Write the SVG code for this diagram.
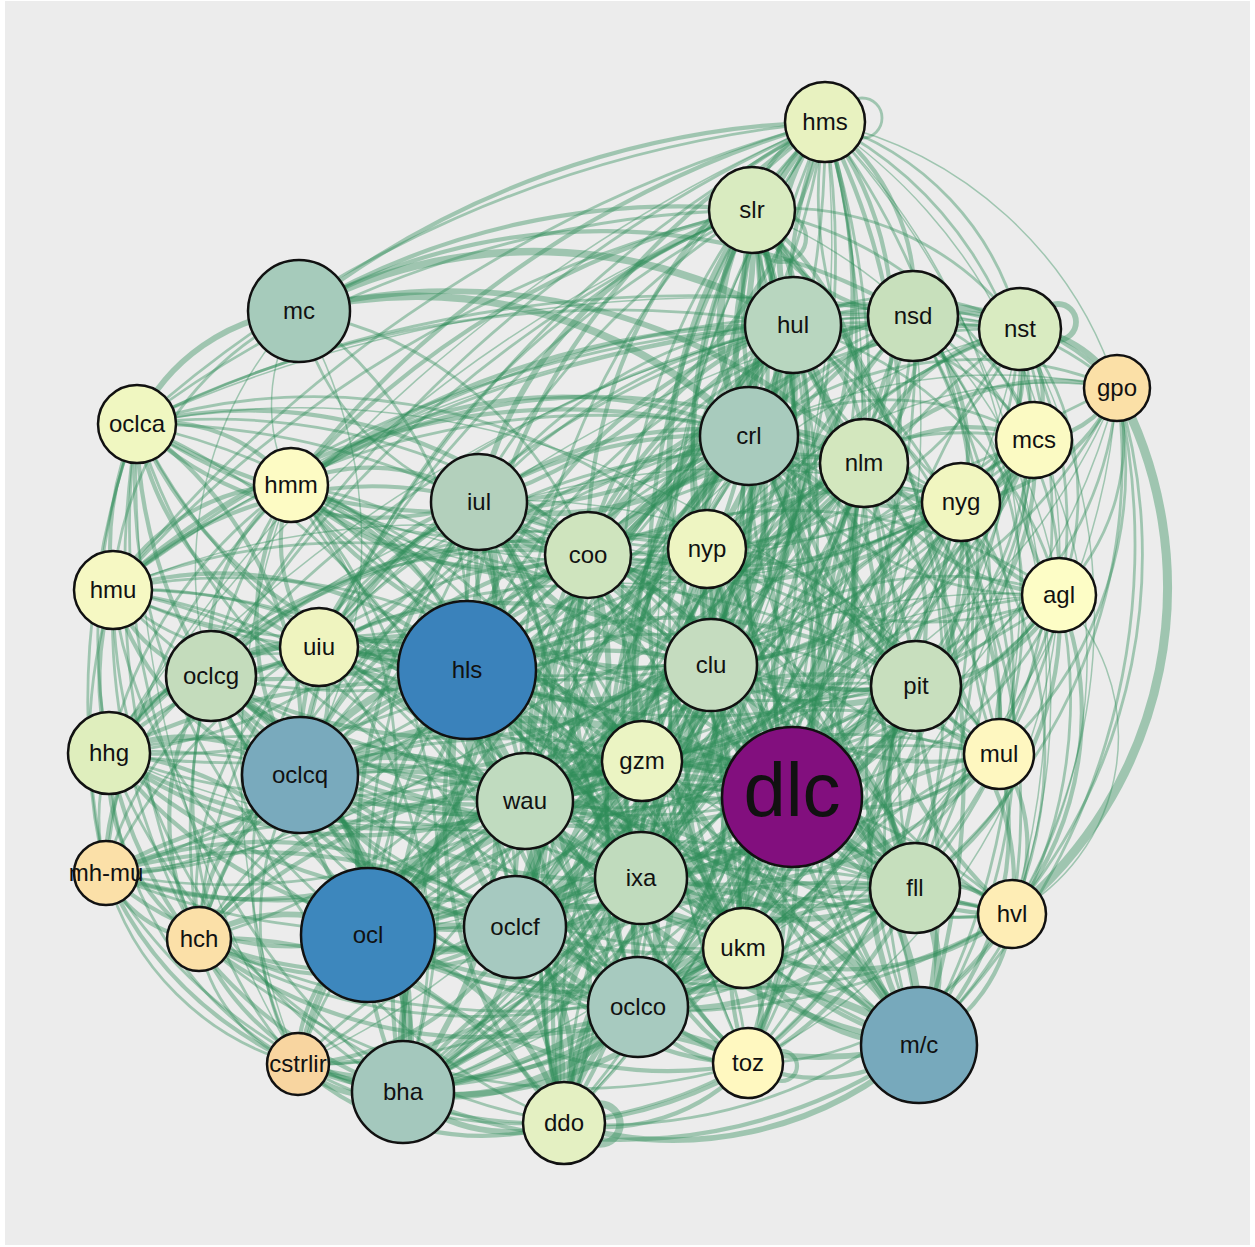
<svg xmlns="http://www.w3.org/2000/svg" width="1255" height="1247" viewBox="0 0 1255 1247">
<style>
#edges path{fill:none;stroke:#2e8b57;stroke-opacity:0.4}
#edges circle{fill:none;stroke:#2e8b57;stroke-opacity:0.4}
.a{stroke-width:1.5}.b{stroke-width:2.8}.c{stroke-width:4.2}.d{stroke-width:5.8}.e{stroke-width:7.5}.f{stroke-width:9}
.n circle{stroke:#111;stroke-width:2.5}
.n text{font-family:"Liberation Sans",Arial,Helvetica,sans-serif;font-size:24px;fill:#111;text-anchor:middle}
</style>
<rect x="0" y="0" width="1255" height="1247" fill="#ffffff"/>
<rect x="5" y="1" width="1245" height="1244" fill="#ececec"/>
<g id="edges">
<path class="c" d="M825 122A675 675 0 0 1 792 797"/>
<path class="c" d="M752 210A589 589 0 0 0 792 797"/>
<path class="d" d="M793 325A472 472 0 0 1 792 797"/>
<path class="c" d="M913 316A496 496 0 0 0 792 797"/>
<path class="b" d="M1020 329A520 520 0 0 1 792 797"/>
<path class="b" d="M1117 388A523 523 0 0 0 792 797"/>
<path class="e" d="M749 436A363 363 0 0 1 792 797"/>
<path class="c" d="M864 463A341 341 0 0 0 792 797"/>
<path class="b" d="M1034 440A429 429 0 0 1 792 797"/>
<path class="c" d="M961 502A339 339 0 0 0 792 797"/>
<path class="c" d="M588 555A316 316 0 0 1 792 797"/>
<path class="c" d="M707 549A261 261 0 0 0 792 797"/>
<path class="b" d="M1059 595A334 334 0 0 1 792 797"/>
<path class="e" d="M711 665A154 154 0 0 0 792 797"/>
<path class="e" d="M916 686A166 166 0 0 1 792 797"/>
<path class="d" d="M792 797A155 155 0 0 0 642 761"/>
<path class="c" d="M999 754A211 211 0 0 1 792 797"/>
<path class="e" d="M792 797A267 267 0 0 0 525 801"/>
<path class="e" d="M792 797A172 172 0 0 1 641 878"/>
<path class="e" d="M915 888A154 154 0 0 0 792 797"/>
<path class="c" d="M1012 914A250 250 0 0 1 792 797"/>
<path class="e" d="M792 797A160 160 0 0 0 743 948"/>
<path class="e" d="M792 797A261 261 0 0 1 638 1007"/>
<path class="c" d="M792 797A271 271 0 0 0 748 1063"/>
<path class="e" d="M792 797A280 280 0 0 1 919 1045"/>
<path class="d" d="M792 797A398 398 0 0 0 564 1123"/>
<path class="d" d="M792 797A489 489 0 0 1 403 1092"/>
<path class="e" d="M792 797A446 446 0 0 0 368 935"/>
<path class="e" d="M792 797A306 306 0 0 1 515 927"/>
<path class="e" d="M792 797A492 492 0 0 0 300 775"/>
<path class="e" d="M792 797A349 349 0 0 1 467 670"/>
<path class="d" d="M792 797A429 429 0 0 0 479 502"/>
<path class="b" d="M792 797A590 590 0 0 1 291 485"/>
<path class="b" d="M792 797A753 753 0 0 0 137 424"/>
<path class="b" d="M792 797A710 710 0 0 1 113 590"/>
<path class="c" d="M792 797A684 684 0 0 0 109 753"/>
<path class="c" d="M792 797A593 593 0 0 1 211 676"/>
<path class="c" d="M792 797A496 496 0 0 0 319 647"/>
<path class="b" d="M792 797A690 690 0 0 1 106 873"/>
<path class="c" d="M792 797A610 610 0 0 0 199 939"/>
<path class="b" d="M792 797A562 562 0 0 1 298 1064"/>
<path class="c" d="M467 670A654 654 0 0 1 825 122"/>
<path class="c" d="M467 670A543 543 0 0 0 752 210"/>
<path class="c" d="M467 670A475 475 0 0 1 793 325"/>
<path class="c" d="M467 670A366 366 0 0 0 749 436"/>
<path class="b" d="M467 670A448 448 0 0 1 864 463"/>
<path class="d" d="M467 670A168 168 0 0 0 479 502"/>
<path class="d" d="M467 670A167 167 0 0 1 588 555"/>
<path class="c" d="M467 670A269 269 0 0 0 707 549"/>
<path class="d" d="M711 665A244 244 0 0 1 467 670"/>
<path class="d" d="M642 761A196 196 0 0 0 467 670"/>
<path class="e" d="M525 801A143 143 0 0 1 467 670"/>
<path class="d" d="M641 878A271 271 0 0 0 467 670"/>
<path class="e" d="M515 927A261 261 0 0 1 467 670"/>
<path class="e" d="M368 935A283 283 0 0 0 467 670"/>
<path class="e" d="M300 775A197 197 0 0 1 467 670"/>
<path class="d" d="M467 670A256 256 0 0 0 211 676"/>
<path class="c" d="M467 670A150 150 0 0 1 319 647"/>
<path class="c" d="M467 670A255 255 0 0 0 291 485"/>
<path class="c" d="M467 670A412 412 0 0 1 137 424"/>
<path class="c" d="M467 670A363 363 0 0 0 113 590"/>
<path class="c" d="M109 753A367 367 0 0 1 467 670"/>
<path class="b" d="M106 873A414 414 0 0 0 467 670"/>
<path class="c" d="M199 939A379 379 0 0 1 467 670"/>
<path class="d" d="M403 1092A427 427 0 0 0 467 670"/>
<path class="c" d="M564 1123A462 462 0 0 1 467 670"/>
<path class="d" d="M638 1007A378 378 0 0 0 467 670"/>
<path class="c" d="M743 948A392 392 0 0 1 467 670"/>
<path class="b" d="M748 1063A483 483 0 0 0 467 670"/>
<path class="d" d="M919 1045A587 587 0 0 1 467 670"/>
<path class="c" d="M916 686A449 449 0 0 0 467 670"/>
<path class="c" d="M915 888A498 498 0 0 1 467 670"/>
<path class="b" d="M467 670A521 521 0 0 0 961 502"/>
<path class="b" d="M467 670A569 569 0 0 1 913 316"/>
<path class="b" d="M467 670A611 611 0 0 0 1034 440"/>
<path class="b" d="M1059 595A597 597 0 0 1 467 670"/>
<path class="b" d="M999 754A539 539 0 0 0 467 670"/>
<path class="b" d="M1012 914A597 597 0 0 1 467 670"/>
<path class="b" d="M467 670A396 396 0 0 0 299 311"/>
<path class="e" d="M368 935A174 174 0 0 0 300 775"/>
<path class="e" d="M515 927A147 147 0 0 1 368 935"/>
<path class="e" d="M403 1092A161 161 0 0 0 368 935"/>
<path class="c" d="M298 1064A147 147 0 0 1 368 935"/>
<path class="d" d="M368 935A169 169 0 0 0 199 939"/>
<path class="c" d="M368 935A270 270 0 0 1 106 873"/>
<path class="c" d="M368 935A316 316 0 0 0 109 753"/>
<path class="b" d="M368 935A429 429 0 0 1 113 590"/>
<path class="c" d="M368 935A303 303 0 0 0 211 676"/>
<path class="b" d="M368 935A561 561 0 0 1 137 424"/>
<path class="b" d="M368 935A457 457 0 0 0 291 485"/>
<path class="c" d="M368 935A292 292 0 0 1 319 647"/>
<path class="c" d="M368 935A447 447 0 0 0 479 502"/>
<path class="c" d="M368 935A439 439 0 0 1 588 555"/>
<path class="e" d="M525 801A206 206 0 0 0 368 935"/>
<path class="d" d="M641 878A279 279 0 0 1 368 935"/>
<path class="d" d="M638 1007A279 279 0 0 0 368 935"/>
<path class="c" d="M743 948A375 375 0 0 1 368 935"/>
<path class="d" d="M564 1123A270 270 0 0 0 368 935"/>
<path class="c" d="M748 1063A401 401 0 0 1 368 935"/>
<path class="d" d="M919 1045A562 562 0 0 0 368 935"/>
<path class="c" d="M915 888A549 549 0 0 1 368 935"/>
<path class="b" d="M916 686A602 602 0 0 0 368 935"/>
<path class="c" d="M711 665A437 437 0 0 1 368 935"/>
<path class="c" d="M642 761A324 324 0 0 0 368 935"/>
<path class="b" d="M368 935A628 628 0 0 1 749 436"/>
<path class="b" d="M368 935A743 743 0 0 0 793 325"/>
<path class="b" d="M368 935A822 822 0 0 1 752 210"/>
<path class="b" d="M368 935A933 933 0 0 0 825 122"/>
<path class="b" d="M864 463A685 685 0 0 1 368 935"/>
<path class="b" d="M368 935A514 514 0 0 0 707 549"/>
<path class="b" d="M1012 914A644 644 0 0 1 368 935"/>
<path class="b" d="M999 754A656 656 0 0 0 368 935"/>
<path class="a" d="M961 502A733 733 0 0 1 368 935"/>
<path class="a" d="M1059 595A770 770 0 0 0 368 935"/>
<path class="d" d="M300 775A133 133 0 0 1 211 676"/>
<path class="d" d="M300 775A192 192 0 0 0 109 753"/>
<path class="c" d="M300 775A263 263 0 0 1 113 590"/>
<path class="c" d="M300 775A387 387 0 0 0 137 424"/>
<path class="c" d="M300 775A290 290 0 0 1 291 485"/>
<path class="c" d="M300 775A129 129 0 0 0 319 647"/>
<path class="c" d="M300 775A327 327 0 0 1 479 502"/>
<path class="a" d="M300 775A464 464 0 0 0 299 311"/>
<path class="c" d="M300 775A362 362 0 0 1 588 555"/>
<path class="e" d="M525 801A226 226 0 0 0 300 775"/>
<path class="d" d="M515 927A263 263 0 0 1 300 775"/>
<path class="c" d="M403 1092A333 333 0 0 0 300 775"/>
<path class="c" d="M199 939A192 192 0 0 1 300 775"/>
<path class="c" d="M106 873A217 217 0 0 0 300 775"/>
<path class="b" d="M298 1064A289 289 0 0 1 300 775"/>
<path class="c" d="M641 878A356 356 0 0 0 300 775"/>
<path class="c" d="M642 761A342 342 0 0 1 300 775"/>
<path class="c" d="M711 665A425 425 0 0 0 300 775"/>
<path class="c" d="M638 1007A410 410 0 0 1 300 775"/>
<path class="c" d="M564 1123A435 435 0 0 0 300 775"/>
<path class="c" d="M743 948A476 476 0 0 1 300 775"/>
<path class="c" d="M919 1045A675 675 0 0 0 300 775"/>
<path class="b" d="M916 686A622 622 0 0 1 300 775"/>
<path class="b" d="M915 888A625 625 0 0 0 300 775"/>
<path class="b" d="M300 775A563 563 0 0 1 749 436"/>
<path class="b" d="M300 775A668 668 0 0 0 793 325"/>
<path class="b" d="M300 775A725 725 0 0 1 752 210"/>
<path class="b" d="M300 775A838 838 0 0 0 825 122"/>
<path class="b" d="M300 775A466 466 0 0 1 707 549"/>
<path class="b" d="M300 775A645 645 0 0 0 864 463"/>
<path class="e" d="M915 888A157 157 0 0 1 919 1045"/>
<path class="c" d="M1012 914A161 161 0 0 1 919 1045"/>
<path class="c" d="M999 754A302 302 0 0 1 919 1045"/>
<path class="b" d="M1059 595A471 471 0 0 1 919 1045"/>
<path class="d" d="M916 686A359 359 0 0 0 919 1045"/>
<path class="d" d="M919 1045A201 201 0 0 1 743 948"/>
<path class="c" d="M919 1045A172 172 0 0 1 748 1063"/>
<path class="e" d="M919 1045A284 284 0 0 0 638 1007"/>
<path class="d" d="M919 1045A364 364 0 0 1 564 1123"/>
<path class="c" d="M919 1045A518 518 0 0 1 403 1092"/>
<path class="d" d="M919 1045A324 324 0 0 0 641 878"/>
<path class="d" d="M919 1045A421 421 0 0 1 515 927"/>
<path class="c" d="M919 1045A463 463 0 0 0 525 801"/>
<path class="c" d="M919 1045A398 398 0 0 1 642 761"/>
<path class="c" d="M711 665A433 433 0 0 0 919 1045"/>
<path class="c" d="M749 436A632 632 0 0 1 919 1045"/>
<path class="c" d="M864 463A585 585 0 0 0 919 1045"/>
<path class="b" d="M961 502A545 545 0 0 1 919 1045"/>
<path class="b" d="M1034 440A615 615 0 0 0 919 1045"/>
<path class="b" d="M1117 388A688 688 0 0 1 919 1045"/>
<path class="b" d="M1020 329A723 723 0 0 0 919 1045"/>
<path class="b" d="M913 316A730 730 0 0 1 919 1045"/>
<path class="c" d="M793 325A731 731 0 0 0 919 1045"/>
<path class="c" d="M752 210A853 853 0 0 1 919 1045"/>
<path class="b" d="M825 122A928 928 0 0 0 919 1045"/>
<path class="b" d="M588 555A591 591 0 0 1 919 1045"/>
<path class="b" d="M707 549A539 539 0 0 0 919 1045"/>
<path class="b" d="M919 1045A699 699 0 0 1 479 502"/>
<path class="c" d="M752 210A113 113 0 0 1 825 122"/>
<path class="d" d="M825 122A205 205 0 0 0 793 325"/>
<path class="c" d="M825 122A212 212 0 0 1 913 316"/>
<path class="b" d="M825 122A284 284 0 0 1 1020 329"/>
<path class="d" d="M825 122A323 323 0 0 0 749 436"/>
<path class="c" d="M825 122A343 343 0 0 1 864 463"/>
<path class="b" d="M825 122A403 403 0 0 0 961 502"/>
<path class="b" d="M825 122A381 381 0 0 1 1034 440"/>
<path class="c" d="M825 122A571 571 0 0 0 916 686"/>
<path class="a" d="M825 122A528 528 0 0 1 1059 595"/>
<path class="b" d="M825 122A771 771 0 0 1 915 888"/>
<path class="a" d="M825 122A656 656 0 0 1 999 754"/>
<path class="a" d="M825 122A814 814 0 0 1 1012 914"/>
<path class="c" d="M479 502A514 514 0 0 0 825 122"/>
<path class="c" d="M588 555A494 494 0 0 1 825 122"/>
<path class="c" d="M825 122A443 443 0 0 0 707 549"/>
<path class="c" d="M825 122A555 555 0 0 1 711 665"/>
<path class="b" d="M825 122A664 664 0 0 0 642 761"/>
<path class="b" d="M825 122A778 778 0 0 1 641 878"/>
<path class="b" d="M515 927A862 862 0 0 0 825 122"/>
<path class="b" d="M825 122A905 905 0 0 1 638 1007"/>
<path class="c" d="M291 485A1034 1034 0 0 1 825 122"/>
<path class="b" d="M137 424A1200 1200 0 0 1 825 122"/>
<path class="c" d="M299 311A894 894 0 0 1 825 122"/>
<path class="b" d="M113 590A1363 1363 0 0 1 825 122"/>
<path class="b" d="M211 676A1323 1323 0 0 1 825 122"/>
<path class="b" d="M319 647A1166 1166 0 0 1 825 122"/>
<path class="a" d="M109 753A1526 1526 0 0 1 825 122"/>
<path class="b" d="M825 122A830 830 0 0 0 743 948"/>
<path class="b" d="M525 801A742 742 0 0 1 825 122"/>
<path class="a" d="M403 1092A1058 1058 0 0 0 825 122"/>
<path class="a" d="M825 122A1034 1034 0 0 1 564 1123"/>
<path class="a" d="M825 122A944 944 0 0 0 748 1063"/>
<path class="a" d="M825 122A394 394 0 0 1 1117 388"/>
<path class="d" d="M752 210A122 122 0 0 1 793 325"/>
<path class="c" d="M752 210A190 190 0 0 0 913 316"/>
<path class="b" d="M752 210A290 290 0 0 1 1020 329"/>
<path class="e" d="M752 210A226 226 0 0 0 749 436"/>
<path class="c" d="M752 210A277 277 0 0 1 864 463"/>
<path class="b" d="M752 210A358 358 0 0 0 961 502"/>
<path class="b" d="M752 210A364 364 0 0 1 1034 440"/>
<path class="c" d="M752 210A503 503 0 0 0 916 686"/>
<path class="d" d="M479 502A400 400 0 0 1 752 210"/>
<path class="d" d="M588 555A382 382 0 0 0 752 210"/>
<path class="d" d="M752 210A342 342 0 0 1 707 549"/>
<path class="d" d="M752 210A457 457 0 0 0 711 665"/>
<path class="c" d="M752 210A562 562 0 0 1 642 761"/>
<path class="c" d="M525 801A633 633 0 0 0 752 210"/>
<path class="c" d="M752 210A677 677 0 0 1 641 878"/>
<path class="c" d="M515 927A755 755 0 0 0 752 210"/>
<path class="b" d="M752 210A805 805 0 0 1 638 1007"/>
<path class="c" d="M752 210A738 738 0 0 0 743 948"/>
<path class="b" d="M752 210A697 697 0 0 1 915 888"/>
<path class="c" d="M291 485A859 859 0 0 1 752 210"/>
<path class="c" d="M299 311A742 742 0 0 1 752 210"/>
<path class="b" d="M137 424A1042 1042 0 0 1 752 210"/>
<path class="b" d="M319 647A984 984 0 0 1 752 210"/>
<path class="b" d="M211 676A1142 1142 0 0 1 752 210"/>
<path class="b" d="M113 590A1189 1189 0 0 1 752 210"/>
<path class="b" d="M403 1092A948 948 0 0 0 752 210"/>
<path class="b" d="M752 210A932 932 0 0 1 564 1123"/>
<path class="a" d="M752 210A493 493 0 0 1 1059 595"/>
<path class="a" d="M109 753A1347 1347 0 0 1 752 210"/>
<path class="c" d="M793 325A120 120 0 0 1 913 316"/>
<path class="b" d="M793 325A227 227 0 0 1 1020 329"/>
<path class="e" d="M793 325A119 119 0 0 0 749 436"/>
<path class="c" d="M793 325A155 155 0 0 1 864 463"/>
<path class="c" d="M793 325A244 244 0 0 0 961 502"/>
<path class="b" d="M793 325A267 267 0 0 1 1034 440"/>
<path class="b" d="M793 325A330 330 0 0 1 1117 388"/>
<path class="c" d="M793 325A381 381 0 0 0 916 686"/>
<path class="b" d="M793 325A379 379 0 0 1 1059 595"/>
<path class="e" d="M299 311A494 494 0 0 1 793 325"/>
<path class="c" d="M479 502A360 360 0 0 0 793 325"/>
<path class="c" d="M588 555A308 308 0 0 1 793 325"/>
<path class="c" d="M793 325A240 240 0 0 0 707 549"/>
<path class="d" d="M793 325A350 350 0 0 1 711 665"/>
<path class="c" d="M793 325A461 461 0 0 0 642 761"/>
<path class="c" d="M525 801A546 546 0 0 1 793 325"/>
<path class="c" d="M793 325A573 573 0 0 0 641 878"/>
<path class="c" d="M793 325A663 663 0 0 1 515 927"/>
<path class="c" d="M793 325A699 699 0 0 0 638 1007"/>
<path class="c" d="M793 325A625 625 0 0 1 743 948"/>
<path class="c" d="M793 325A576 576 0 0 0 915 888"/>
<path class="b" d="M793 325A476 476 0 0 1 999 754"/>
<path class="c" d="M291 485A843 843 0 0 1 793 325"/>
<path class="b" d="M137 424A1060 1060 0 0 1 793 325"/>
<path class="b" d="M319 647A917 917 0 0 1 793 325"/>
<path class="b" d="M211 676A1088 1088 0 0 1 793 325"/>
<path class="b" d="M113 590A1168 1168 0 0 1 793 325"/>
<path class="a" d="M109 753A1291 1291 0 0 1 793 325"/>
<path class="b" d="M403 1092A860 860 0 0 0 793 325"/>
<path class="b" d="M793 325A829 829 0 0 1 564 1123"/>
<path class="b" d="M793 325A628 628 0 0 1 1012 914"/>
<path class="b" d="M793 325A739 739 0 0 0 748 1063"/>
<path class="d" d="M137 424A197 197 0 0 1 299 311"/>
<path class="a" d="M291 485A174 174 0 0 1 299 311"/>
<path class="e" d="M299 311A467 467 0 0 1 749 436"/>
<path class="d" d="M299 311A585 585 0 0 1 864 463"/>
<path class="b" d="M479 502A262 262 0 0 1 299 311"/>
<path class="b" d="M113 590A335 335 0 0 1 299 311"/>
<path class="a" d="M211 676A375 375 0 0 1 299 311"/>
<path class="c" d="M299 311A613 613 0 0 1 913 316"/>
<path class="b" d="M299 311A378 378 0 0 1 588 555"/>
<path class="d" d="M913 316A108 108 0 0 1 1020 329"/>
<path class="c" d="M913 316A216 216 0 0 1 1117 388"/>
<path class="b" d="M913 316A174 174 0 0 1 1034 440"/>
<path class="c" d="M913 316A155 155 0 0 1 864 463"/>
<path class="c" d="M913 316A192 192 0 0 1 961 502"/>
<path class="c" d="M749 436A203 203 0 0 1 913 316"/>
<path class="b" d="M913 316A315 315 0 0 1 1059 595"/>
<path class="c" d="M913 316A370 370 0 0 0 916 686"/>
<path class="c" d="M913 316A403 403 0 0 0 711 665"/>
<path class="b" d="M588 555A403 403 0 0 1 913 316"/>
<path class="b" d="M707 549A311 311 0 0 0 913 316"/>
<path class="b" d="M479 502A472 472 0 0 1 913 316"/>
<path class="b" d="M291 485A1030 1030 0 0 1 913 316"/>
<path class="b" d="M137 424A1250 1250 0 0 1 913 316"/>
<path class="b" d="M913 316A572 572 0 0 1 915 888"/>
<path class="b" d="M913 316A447 447 0 0 1 999 754"/>
<path class="a" d="M913 316A606 606 0 0 1 1012 914"/>
<path class="b" d="M913 316A520 520 0 0 0 642 761"/>
<path class="b" d="M913 316A624 624 0 0 1 641 878"/>
<path class="b" d="M913 316A620 620 0 0 0 525 801"/>
<path class="b" d="M913 316A728 728 0 0 1 515 927"/>
<path class="b" d="M913 316A654 654 0 0 0 743 948"/>
<path class="a" d="M913 316A743 743 0 0 1 638 1007"/>
<path class="a" d="M113 590A1350 1350 0 0 1 913 316"/>
<path class="a" d="M319 647A1088 1088 0 0 1 913 316"/>
<path class="d" d="M1020 329A114 114 0 0 1 1117 388"/>
<path class="c" d="M1020 329A112 112 0 0 1 1034 440"/>
<path class="c" d="M1020 329A183 183 0 0 1 961 502"/>
<path class="c" d="M1020 329A205 205 0 0 0 864 463"/>
<path class="c" d="M749 436A291 291 0 0 1 1020 329"/>
<path class="b" d="M1020 329A269 269 0 0 1 1059 595"/>
<path class="b" d="M1020 329A372 372 0 0 1 916 686"/>
<path class="b" d="M1020 329A425 425 0 0 1 999 754"/>
<path class="a" d="M1020 329A585 585 0 0 1 1012 914"/>
<path class="b" d="M1020 329A569 569 0 0 1 915 888"/>
<path class="b" d="M1020 329A456 456 0 0 0 711 665"/>
<path class="b" d="M588 555A488 488 0 0 1 1020 329"/>
<path class="b" d="M707 549A382 382 0 0 0 1020 329"/>
<path class="b" d="M479 502A568 568 0 0 1 1020 329"/>
<path class="b" d="M291 485A1192 1192 0 0 1 1020 329"/>
<path class="a" d="M137 424A1420 1420 0 0 1 1020 329"/>
<path class="b" d="M1020 329A573 573 0 0 0 642 761"/>
<path class="b" d="M1020 329A667 667 0 0 1 641 878"/>
<path class="a" d="M1020 329A684 684 0 0 0 525 801"/>
<path class="a" d="M1020 329A783 783 0 0 1 515 927"/>
<path class="b" d="M1020 329A678 678 0 0 0 743 948"/>
<path class="a" d="M1020 329A778 778 0 0 1 638 1007"/>
<path class="c" d="M1117 388A98 98 0 0 1 1034 440"/>
<path class="c" d="M1117 388A193 193 0 0 1 961 502"/>
<path class="c" d="M864 463A264 264 0 0 1 1117 388"/>
<path class="b" d="M749 436A371 371 0 0 1 1117 388"/>
<path class="b" d="M1117 388A215 215 0 0 1 1059 595"/>
<path class="f" d="M1117 388A420 420 0 0 1 1012 914"/>
<path class="b" d="M1117 388A560 560 0 0 1 1012 914"/>
<path class="b" d="M1117 388A385 385 0 0 1 999 754"/>
<path class="b" d="M1117 388A540 540 0 0 1 915 888"/>
<path class="b" d="M1117 388A360 360 0 0 1 916 686"/>
<path class="b" d="M1117 388A492 492 0 0 1 711 665"/>
<path class="a" d="M588 555A555 555 0 0 1 1117 388"/>
<path class="a" d="M707 549A441 441 0 0 1 1117 388"/>
<path class="a" d="M1117 388A604 604 0 0 1 642 761"/>
<path class="a" d="M1117 388A684 684 0 0 1 641 878"/>
<path class="a" d="M1117 388A674 674 0 0 1 743 948"/>
<path class="d" d="M749 436A118 118 0 0 1 864 463"/>
<path class="c" d="M749 436A222 222 0 0 0 961 502"/>
<path class="b" d="M749 436A285 285 0 0 1 1034 440"/>
<path class="b" d="M749 436A348 348 0 0 0 1059 595"/>
<path class="c" d="M749 436A300 300 0 0 1 916 686"/>
<path class="d" d="M479 502A278 278 0 0 0 749 436"/>
<path class="d" d="M588 555A200 200 0 0 1 749 436"/>
<path class="d" d="M749 436A120 120 0 0 0 707 549"/>
<path class="d" d="M749 436A232 232 0 0 1 711 665"/>
<path class="d" d="M749 436A342 342 0 0 0 642 761"/>
<path class="d" d="M525 801A428 428 0 0 1 749 436"/>
<path class="c" d="M749 436A455 455 0 0 0 641 878"/>
<path class="d" d="M749 436A544 544 0 0 1 515 927"/>
<path class="c" d="M749 436A582 582 0 0 0 638 1007"/>
<path class="c" d="M749 436A512 512 0 0 1 743 948"/>
<path class="c" d="M749 436A481 481 0 0 0 915 888"/>
<path class="b" d="M749 436A404 404 0 0 1 999 754"/>
<path class="b" d="M749 436A546 546 0 0 0 1012 914"/>
<path class="c" d="M291 485A461 461 0 0 1 749 436"/>
<path class="c" d="M137 424A612 612 0 0 0 749 436"/>
<path class="c" d="M319 647A479 479 0 0 1 749 436"/>
<path class="c" d="M211 676A589 589 0 0 0 749 436"/>
<path class="c" d="M113 590A654 654 0 0 1 749 436"/>
<path class="b" d="M109 753A714 714 0 0 0 749 436"/>
<path class="c" d="M403 1092A742 742 0 0 1 749 436"/>
<path class="c" d="M749 436A711 711 0 0 0 564 1123"/>
<path class="b" d="M749 436A627 627 0 0 1 748 1063"/>
<path class="a" d="M106 873A777 777 0 0 0 749 436"/>
<path class="b" d="M199 939A745 745 0 0 1 749 436"/>
<path class="a" d="M298 1064A773 773 0 0 0 749 436"/>
<path class="d" d="M864 463A104 104 0 0 0 961 502"/>
<path class="c" d="M864 463A171 171 0 0 1 1034 440"/>
<path class="c" d="M864 463A235 235 0 0 0 1059 595"/>
<path class="c" d="M864 463A229 229 0 0 1 916 686"/>
<path class="c" d="M864 463A253 253 0 0 0 711 665"/>
<path class="c" d="M588 555A291 291 0 0 1 864 463"/>
<path class="c" d="M707 549A179 179 0 0 0 864 463"/>
<path class="c" d="M479 502A387 387 0 0 1 864 463"/>
<path class="c" d="M864 463A371 371 0 0 0 642 761"/>
<path class="c" d="M864 463A479 479 0 0 1 525 801"/>
<path class="c" d="M864 463A471 471 0 0 0 641 878"/>
<path class="c" d="M864 463A580 580 0 0 1 515 927"/>
<path class="c" d="M864 463A589 589 0 0 0 638 1007"/>
<path class="c" d="M864 463A500 500 0 0 1 743 948"/>
<path class="c" d="M864 463A428 428 0 0 0 915 888"/>
<path class="c" d="M864 463A321 321 0 0 1 999 754"/>
<path class="c" d="M864 463A475 475 0 0 0 1012 914"/>
<path class="c" d="M291 485A573 573 0 0 1 864 463"/>
<path class="b" d="M137 424A728 728 0 0 0 864 463"/>
<path class="b" d="M319 647A575 575 0 0 1 864 463"/>
<path class="b" d="M211 676A687 687 0 0 0 864 463"/>
<path class="b" d="M113 590A762 762 0 0 1 864 463"/>
<path class="b" d="M109 753A809 809 0 0 0 864 463"/>
<path class="b" d="M864 463A780 780 0 0 1 403 1092"/>
<path class="b" d="M864 463A725 725 0 0 0 564 1123"/>
<path class="b" d="M864 463A611 611 0 0 1 748 1063"/>
<path class="c" d="M1034 440A96 96 0 0 1 961 502"/>
<path class="c" d="M1034 440A157 157 0 0 0 1059 595"/>
<path class="c" d="M1034 440A273 273 0 0 1 916 686"/>
<path class="b" d="M1034 440A316 316 0 0 0 999 754"/>
<path class="a" d="M1034 440A474 474 0 0 1 1012 914"/>
<path class="b" d="M1034 440A463 463 0 0 0 915 888"/>
<path class="c" d="M1034 440A393 393 0 0 1 711 665"/>
<path class="b" d="M588 555A460 460 0 0 0 1034 440"/>
<path class="b" d="M707 549A344 344 0 0 1 1034 440"/>
<path class="b" d="M479 502A558 558 0 0 0 1034 440"/>
<path class="b" d="M1034 440A506 506 0 0 1 642 761"/>
<path class="b" d="M1034 440A588 588 0 0 0 641 878"/>
<path class="b" d="M1034 440A623 623 0 0 1 525 801"/>
<path class="b" d="M1034 440A585 585 0 0 0 743 948"/>
<path class="a" d="M1034 440A691 691 0 0 1 638 1007"/>
<path class="a" d="M291 485A744 744 0 0 0 1034 440"/>
<path class="c" d="M961 502A135 135 0 0 0 1059 595"/>
<path class="c" d="M961 502A189 189 0 0 1 916 686"/>
<path class="c" d="M961 502A255 255 0 0 0 999 754"/>
<path class="b" d="M961 502A415 415 0 0 1 1012 914"/>
<path class="c" d="M961 502A389 389 0 0 0 915 888"/>
<path class="c" d="M961 502A298 298 0 0 1 711 665"/>
<path class="c" d="M588 555A377 377 0 0 0 961 502"/>
<path class="c" d="M707 549A258 258 0 0 1 961 502"/>
<path class="b" d="M479 502A482 482 0 0 0 961 502"/>
<path class="c" d="M961 502A411 411 0 0 1 642 761"/>
<path class="c" d="M961 502A494 494 0 0 0 641 878"/>
<path class="b" d="M961 502A529 529 0 0 1 525 801"/>
<path class="b" d="M961 502A616 616 0 0 0 515 927"/>
<path class="c" d="M961 502A496 496 0 0 1 743 948"/>
<path class="b" d="M961 502A600 600 0 0 0 638 1007"/>
<path class="b" d="M961 502A600 600 0 0 1 748 1063"/>
<path class="b" d="M961 502A737 737 0 0 0 564 1123"/>
<path class="a" d="M961 502A812 812 0 0 1 403 1092"/>
<path class="a" d="M291 485A670 670 0 0 0 961 502"/>
<path class="a" d="M211 676A770 770 0 0 1 961 502"/>
<path class="c" d="M1059 595A170 170 0 0 1 916 686"/>
<path class="c" d="M1059 595A170 170 0 0 0 999 754"/>
<path class="c" d="M1059 595A322 322 0 0 1 1012 914"/>
<path class="a" d="M1059 595A200 200 0 0 1 1012 914"/>
<path class="c" d="M1059 595A326 326 0 0 1 915 888"/>
<path class="b" d="M1059 595A355 355 0 0 0 711 665"/>
<path class="b" d="M588 555A473 473 0 0 1 1059 595"/>
<path class="b" d="M707 549A355 355 0 0 0 1059 595"/>
<path class="b" d="M1059 595A449 449 0 0 1 642 761"/>
<path class="b" d="M1059 595A505 505 0 0 0 641 878"/>
<path class="b" d="M1059 595A572 572 0 0 1 525 801"/>
<path class="b" d="M1059 595A474 474 0 0 0 743 948"/>
<path class="b" d="M1059 595A589 589 0 0 1 638 1007"/>
<path class="a" d="M1059 595A637 637 0 0 0 515 927"/>
<path class="a" d="M1059 595A562 562 0 0 1 748 1063"/>
<path class="c" d="M916 686A107 107 0 0 0 999 754"/>
<path class="c" d="M916 686A247 247 0 0 1 1012 914"/>
<path class="d" d="M916 686A202 202 0 0 0 915 888"/>
<path class="d" d="M916 686A206 206 0 0 1 711 665"/>
<path class="c" d="M588 555A353 353 0 0 0 916 686"/>
<path class="c" d="M707 549A250 250 0 0 1 916 686"/>
<path class="c" d="M479 502A474 474 0 0 0 916 686"/>
<path class="d" d="M916 686A285 285 0 0 1 642 761"/>
<path class="c" d="M916 686A408 408 0 0 0 525 801"/>
<path class="d" d="M916 686A335 335 0 0 1 641 878"/>
<path class="c" d="M916 686A468 468 0 0 0 515 927"/>
<path class="c" d="M916 686A425 425 0 0 1 638 1007"/>
<path class="d" d="M916 686A314 314 0 0 0 743 948"/>
<path class="c" d="M916 686A413 413 0 0 1 748 1063"/>
<path class="c" d="M916 686A561 561 0 0 0 564 1123"/>
<path class="b" d="M916 686A654 654 0 0 1 403 1092"/>
<path class="b" d="M916 686A598 598 0 0 0 319 647"/>
<path class="b" d="M916 686A705 705 0 0 1 211 676"/>
<path class="b" d="M291 485A657 657 0 0 0 916 686"/>
<path class="a" d="M916 686A810 810 0 0 1 109 753"/>
<path class="a" d="M916 686A809 809 0 0 0 113 590"/>
<path class="a" d="M137 424A822 822 0 0 1 916 686"/>
<path class="c" d="M999 754A161 161 0 0 1 1012 914"/>
<path class="c" d="M999 754A158 158 0 0 0 915 888"/>
<path class="c" d="M999 754A301 301 0 0 1 711 665"/>
<path class="b" d="M999 754A358 358 0 0 0 642 761"/>
<path class="c" d="M999 754A379 379 0 0 1 641 878"/>
<path class="c" d="M999 754A321 321 0 0 0 743 948"/>
<path class="b" d="M999 754A441 441 0 0 1 638 1007"/>
<path class="b" d="M999 754A398 398 0 0 0 748 1063"/>
<path class="b" d="M999 754A476 476 0 0 1 525 801"/>
<path class="b" d="M999 754A514 514 0 0 0 515 927"/>
<path class="b" d="M588 555A457 457 0 0 1 999 754"/>
<path class="b" d="M707 549A357 357 0 0 0 999 754"/>
<path class="a" d="M479 502A578 578 0 0 1 999 754"/>
<path class="c" d="M1012 914A100 100 0 0 0 915 888"/>
<path class="d" d="M711 665A302 302 0 0 1 915 888"/>
<path class="d" d="M915 888A302 302 0 0 0 642 761"/>
<path class="d" d="M915 888A274 274 0 0 1 641 878"/>
<path class="d" d="M915 888A182 182 0 0 0 743 948"/>
<path class="d" d="M915 888A301 301 0 0 1 638 1007"/>
<path class="c" d="M915 888A242 242 0 0 0 748 1063"/>
<path class="c" d="M915 888A423 423 0 0 1 564 1123"/>
<path class="c" d="M915 888A551 551 0 0 0 403 1092"/>
<path class="c" d="M915 888A400 400 0 0 1 525 801"/>
<path class="d" d="M915 888A402 402 0 0 0 515 927"/>
<path class="c" d="M588 555A467 467 0 0 1 915 888"/>
<path class="c" d="M707 549A398 398 0 0 0 915 888"/>
<path class="b" d="M915 888A582 582 0 0 1 479 502"/>
<path class="b" d="M915 888A642 642 0 0 0 298 1064"/>
<path class="b" d="M915 888A718 718 0 0 1 199 939"/>
<path class="c" d="M1012 914A271 271 0 0 1 743 948"/>
<path class="c" d="M1012 914A385 385 0 0 0 638 1007"/>
<path class="b" d="M1012 914A303 303 0 0 1 748 1063"/>
<path class="c" d="M1012 914A373 373 0 0 0 641 878"/>
<path class="b" d="M1012 914A497 497 0 0 1 515 927"/>
<path class="b" d="M711 665A391 391 0 0 0 1012 914"/>
<path class="b" d="M1012 914A402 402 0 0 1 642 761"/>
<path class="b" d="M1012 914A500 500 0 0 0 525 801"/>
<path class="b" d="M1012 914A495 495 0 0 1 564 1123"/>
<path class="b" d="M1012 914A635 635 0 0 0 403 1092"/>
<path class="d" d="M588 555A165 165 0 0 0 711 665"/>
<path class="d" d="M707 549A116 116 0 0 1 711 665"/>
<path class="d" d="M479 502A284 284 0 0 0 711 665"/>
<path class="d" d="M711 665A118 118 0 0 1 642 761"/>
<path class="d" d="M711 665A230 230 0 0 0 525 801"/>
<path class="d" d="M711 665A224 224 0 0 1 641 878"/>
<path class="d" d="M711 665A327 327 0 0 0 515 927"/>
<path class="d" d="M711 665A350 350 0 0 1 638 1007"/>
<path class="d" d="M711 665A285 285 0 0 0 743 948"/>
<path class="c" d="M711 665A400 400 0 0 1 748 1063"/>
<path class="c" d="M711 665A480 480 0 0 0 564 1123"/>
<path class="c" d="M711 665A527 527 0 0 1 403 1092"/>
<path class="c" d="M291 485A457 457 0 0 0 711 665"/>
<path class="b" d="M137 424A623 623 0 0 1 711 665"/>
<path class="c" d="M711 665A392 392 0 0 0 319 647"/>
<path class="c" d="M711 665A500 500 0 0 1 211 676"/>
<path class="b" d="M711 665A603 603 0 0 0 113 590"/>
<path class="b" d="M711 665A608 608 0 0 1 109 753"/>
<path class="b" d="M711 665A580 580 0 0 0 199 939"/>
<path class="b" d="M711 665A640 640 0 0 1 106 873"/>
<path class="b" d="M711 665A574 574 0 0 0 298 1064"/>
<path class="c" d="M588 555A119 119 0 0 1 707 549"/>
<path class="d" d="M479 502A121 121 0 0 0 588 555"/>
<path class="d" d="M642 761A212 212 0 0 1 588 555"/>
<path class="d" d="M525 801A254 254 0 0 0 588 555"/>
<path class="d" d="M641 878A327 327 0 0 1 588 555"/>
<path class="d" d="M515 927A379 379 0 0 0 588 555"/>
<path class="c" d="M638 1007A455 455 0 0 1 588 555"/>
<path class="c" d="M743 948A422 422 0 0 0 588 555"/>
<path class="c" d="M748 1063A532 532 0 0 1 588 555"/>
<path class="c" d="M564 1123A568 568 0 0 0 588 555"/>
<path class="c" d="M403 1092A568 568 0 0 1 588 555"/>
<path class="c" d="M291 485A305 305 0 0 0 588 555"/>
<path class="c" d="M137 424A470 470 0 0 1 588 555"/>
<path class="c" d="M319 647A284 284 0 0 0 588 555"/>
<path class="c" d="M211 676A396 396 0 0 1 588 555"/>
<path class="b" d="M113 590A476 476 0 0 0 588 555"/>
<path class="b" d="M109 753A518 518 0 0 1 588 555"/>
<path class="b" d="M199 939A546 546 0 0 0 588 555"/>
<path class="b" d="M106 873A577 577 0 0 1 588 555"/>
<path class="b" d="M298 1064A586 586 0 0 0 588 555"/>
<path class="c" d="M479 502A233 233 0 0 0 707 549"/>
<path class="d" d="M707 549A221 221 0 0 1 642 761"/>
<path class="c" d="M525 801A311 311 0 0 0 707 549"/>
<path class="d" d="M707 549A336 336 0 0 1 641 878"/>
<path class="c" d="M707 549A424 424 0 0 0 515 927"/>
<path class="c" d="M707 549A463 463 0 0 1 638 1007"/>
<path class="c" d="M707 549A401 401 0 0 0 743 948"/>
<path class="c" d="M707 549A516 516 0 0 1 748 1063"/>
<path class="b" d="M707 549A591 591 0 0 0 564 1123"/>
<path class="b" d="M707 549A622 622 0 0 1 403 1092"/>
<path class="c" d="M291 485A421 421 0 0 0 707 549"/>
<path class="b" d="M137 424A584 584 0 0 1 707 549"/>
<path class="b" d="M319 647A400 400 0 0 0 707 549"/>
<path class="b" d="M211 676A512 512 0 0 1 707 549"/>
<path class="b" d="M113 590A595 595 0 0 0 707 549"/>
<path class="b" d="M109 753A632 632 0 0 1 707 549"/>
<path class="c" d="M291 485A189 189 0 0 1 479 502"/>
<path class="c" d="M137 424A351 351 0 0 0 479 502"/>
<path class="c" d="M319 647A216 216 0 0 1 479 502"/>
<path class="c" d="M211 676A320 320 0 0 0 479 502"/>
<path class="c" d="M113 590A376 376 0 0 1 479 502"/>
<path class="b" d="M109 753A447 447 0 0 0 479 502"/>
<path class="c" d="M642 761A305 305 0 0 1 479 502"/>
<path class="c" d="M525 801A302 302 0 0 0 479 502"/>
<path class="c" d="M641 878A409 409 0 0 1 479 502"/>
<path class="c" d="M515 927A426 426 0 0 0 479 502"/>
<path class="c" d="M638 1007A529 529 0 0 1 479 502"/>
<path class="b" d="M743 948A518 518 0 0 0 479 502"/>
<path class="c" d="M403 1092A595 595 0 0 1 479 502"/>
<path class="b" d="M564 1123A626 626 0 0 0 479 502"/>
<path class="b" d="M199 939A518 518 0 0 1 479 502"/>
<path class="b" d="M106 873A525 525 0 0 0 479 502"/>
<path class="d" d="M642 761A123 123 0 0 0 525 801"/>
<path class="d" d="M642 761A118 118 0 0 1 641 878"/>
<path class="d" d="M642 761A209 209 0 0 0 515 927"/>
<path class="d" d="M642 761A247 247 0 0 1 638 1007"/>
<path class="d" d="M743 948A214 214 0 0 0 642 761"/>
<path class="c" d="M748 1063A321 321 0 0 1 642 761"/>
<path class="c" d="M642 761A370 370 0 0 0 564 1123"/>
<path class="c" d="M642 761A408 408 0 0 1 403 1092"/>
<path class="c" d="M642 761A341 341 0 0 0 319 647"/>
<path class="c" d="M642 761A438 438 0 0 1 211 676"/>
<path class="b" d="M642 761A445 445 0 0 0 291 485"/>
<path class="c" d="M642 761A532 532 0 0 1 109 753"/>
<path class="b" d="M642 761A555 555 0 0 0 113 590"/>
<path class="b" d="M642 761A606 606 0 0 1 137 424"/>
<path class="c" d="M642 761A476 476 0 0 0 199 939"/>
<path class="c" d="M642 761A547 547 0 0 1 106 873"/>
<path class="b" d="M642 761A458 458 0 0 0 298 1064"/>
<path class="d" d="M641 878A139 139 0 0 1 525 801"/>
<path class="e" d="M515 927A126 126 0 0 0 525 801"/>
<path class="d" d="M638 1007A235 235 0 0 1 525 801"/>
<path class="d" d="M743 948A263 263 0 0 0 525 801"/>
<path class="c" d="M748 1063A344 344 0 0 1 525 801"/>
<path class="c" d="M564 1123A323 323 0 0 0 525 801"/>
<path class="d" d="M403 1092A315 315 0 0 1 525 801"/>
<path class="c" d="M525 801A257 257 0 0 0 319 647"/>
<path class="c" d="M525 801A338 338 0 0 1 211 676"/>
<path class="c" d="M525 801A393 393 0 0 0 291 485"/>
<path class="c" d="M525 801A419 419 0 0 1 109 753"/>
<path class="b" d="M525 801A463 463 0 0 0 113 590"/>
<path class="b" d="M525 801A541 541 0 0 1 137 424"/>
<path class="c" d="M525 801A354 354 0 0 0 199 939"/>
<path class="c" d="M525 801A425 425 0 0 1 106 873"/>
<path class="c" d="M525 801A347 347 0 0 0 298 1064"/>
<path class="d" d="M641 878A135 135 0 0 0 515 927"/>
<path class="e" d="M641 878A129 129 0 0 1 638 1007"/>
<path class="d" d="M743 948A124 124 0 0 0 641 878"/>
<path class="c" d="M748 1063A214 214 0 0 1 641 878"/>
<path class="d" d="M641 878A256 256 0 0 0 564 1123"/>
<path class="d" d="M641 878A320 320 0 0 1 403 1092"/>
<path class="c" d="M641 878A396 396 0 0 0 319 647"/>
<path class="c" d="M641 878A475 475 0 0 1 211 676"/>
<path class="b" d="M641 878A526 526 0 0 0 291 485"/>
<path class="c" d="M641 878A547 547 0 0 1 109 753"/>
<path class="b" d="M641 878A601 601 0 0 0 113 590"/>
<path class="c" d="M641 878A446 446 0 0 1 199 939"/>
<path class="c" d="M641 878A535 535 0 0 0 106 873"/>
<path class="c" d="M641 878A390 390 0 0 1 298 1064"/>
<path class="b" d="M641 878A678 678 0 0 0 137 424"/>
<path class="d" d="M638 1007A147 147 0 0 1 515 927"/>
<path class="d" d="M743 948A229 229 0 0 0 515 927"/>
<path class="c" d="M748 1063A270 270 0 0 1 515 927"/>
<path class="d" d="M564 1123A201 201 0 0 0 515 927"/>
<path class="d" d="M515 927A200 200 0 0 1 403 1092"/>
<path class="c" d="M515 927A342 342 0 0 0 319 647"/>
<path class="c" d="M515 927A394 394 0 0 1 211 676"/>
<path class="b" d="M515 927A496 496 0 0 0 291 485"/>
<path class="c" d="M515 927A442 442 0 0 1 109 753"/>
<path class="b" d="M515 927A525 525 0 0 0 113 590"/>
<path class="c" d="M515 927A316 316 0 0 1 199 939"/>
<path class="c" d="M515 927A413 413 0 0 0 106 873"/>
<path class="c" d="M515 927A257 257 0 0 1 298 1064"/>
<path class="b" d="M515 927A629 629 0 0 0 137 424"/>
<path class="d" d="M743 948A121 121 0 0 0 638 1007"/>
<path class="d" d="M743 948A115 115 0 0 1 748 1063"/>
<path class="d" d="M743 948A250 250 0 0 0 564 1123"/>
<path class="d" d="M743 948A369 369 0 0 1 403 1092"/>
<path class="b" d="M743 948A520 520 0 0 0 319 647"/>
<path class="b" d="M743 948A598 598 0 0 1 211 676"/>
<path class="b" d="M743 948A663 663 0 0 0 109 753"/>
<path class="b" d="M743 948A544 544 0 0 1 199 939"/>
<path class="b" d="M743 948A642 642 0 0 0 106 873"/>
<path class="c" d="M743 948A460 460 0 0 1 298 1064"/>
<path class="c" d="M748 1063A123 123 0 0 1 638 1007"/>
<path class="e" d="M638 1007A137 137 0 0 0 564 1123"/>
<path class="e" d="M638 1007A250 250 0 0 1 403 1092"/>
<path class="b" d="M638 1007A481 481 0 0 0 319 647"/>
<path class="b" d="M638 1007A540 540 0 0 1 211 676"/>
<path class="b" d="M638 1007A587 587 0 0 0 109 753"/>
<path class="c" d="M638 1007A444 444 0 0 1 199 939"/>
<path class="c" d="M638 1007A549 549 0 0 0 106 873"/>
<path class="c" d="M638 1007A345 345 0 0 1 298 1064"/>
<path class="b" d="M638 1007A670 670 0 0 0 113 590"/>
<path class="c" d="M748 1063A194 194 0 0 1 564 1123"/>
<path class="c" d="M748 1063A346 346 0 0 0 403 1092"/>
<path class="b" d="M748 1063A563 563 0 0 1 199 939"/>
<path class="b" d="M748 1063A450 450 0 0 1 298 1064"/>
<path class="d" d="M564 1123A163 163 0 0 1 403 1092"/>
<path class="c" d="M564 1123A271 271 0 0 1 298 1064"/>
<path class="c" d="M564 1123A408 408 0 0 0 199 939"/>
<path class="b" d="M564 1123A521 521 0 0 1 106 873"/>
<path class="b" d="M564 1123A585 585 0 0 1 109 753"/>
<path class="b" d="M564 1123A534 534 0 0 0 319 647"/>
<path class="b" d="M564 1123A568 568 0 0 1 211 676"/>
<path class="d" d="M403 1092A109 109 0 0 1 298 1064"/>
<path class="c" d="M403 1092A256 256 0 0 1 199 939"/>
<path class="c" d="M403 1092A370 370 0 0 1 106 873"/>
<path class="c" d="M403 1092A449 449 0 0 1 109 753"/>
<path class="b" d="M403 1092A580 580 0 0 1 113 590"/>
<path class="c" d="M403 1092A458 458 0 0 0 211 676"/>
<path class="b" d="M403 1092A453 453 0 0 0 319 647"/>
<path class="b" d="M403 1092A617 617 0 0 0 291 485"/>
<path class="b" d="M403 1092A719 719 0 0 1 137 424"/>
<path class="c" d="M137 424A166 166 0 0 1 291 485"/>
<path class="c" d="M113 590A300 300 0 0 1 137 424"/>
<path class="c" d="M211 676A470 470 0 0 1 137 424"/>
<path class="c" d="M319 647A288 288 0 0 1 137 424"/>
<path class="b" d="M109 753A600 600 0 0 1 137 424"/>
<path class="b" d="M106 873A810 810 0 0 1 137 424"/>
<path class="b" d="M199 939A930 930 0 0 1 137 424"/>
<path class="a" d="M298 1064A1190 1190 0 0 1 137 424"/>
<path class="c" d="M113 590A207 207 0 0 1 291 485"/>
<path class="c" d="M319 647A164 164 0 0 1 291 485"/>
<path class="c" d="M211 676A207 207 0 0 1 291 485"/>
<path class="b" d="M109 753A450 450 0 0 1 291 485"/>
<path class="b" d="M106 873A600 600 0 0 1 291 485"/>
<path class="b" d="M199 939A650 650 0 0 1 291 485"/>
<path class="a" d="M298 1064A810 810 0 0 1 291 485"/>
<path class="b" d="M319 647A214 214 0 0 1 113 590"/>
<path class="c" d="M211 676A130 130 0 0 1 113 590"/>
<path class="c" d="M109 753A300 300 0 0 1 113 590"/>
<path class="b" d="M106 873A510 510 0 0 1 113 590"/>
<path class="b" d="M199 939A640 640 0 0 1 113 590"/>
<path class="c" d="M211 676A112 112 0 0 1 319 647"/>
<path class="c" d="M109 753A235 235 0 0 1 319 647"/>
<path class="b" d="M106 873A310 310 0 0 1 319 647"/>
<path class="b" d="M199 939A315 315 0 0 1 319 647"/>
<path class="b" d="M298 1064A418 418 0 0 1 319 647"/>
<path class="c" d="M109 753A128 128 0 0 1 211 676"/>
<path class="c" d="M106 873A222 222 0 0 1 211 676"/>
<path class="c" d="M199 939A262 262 0 0 1 211 676"/>
<path class="b" d="M298 1064A398 398 0 0 1 211 676"/>
<path class="b" d="M106 873A220 220 0 0 1 109 753"/>
<path class="c" d="M199 939A206 206 0 0 1 109 753"/>
<path class="b" d="M298 1064A364 364 0 0 1 109 753"/>
<path class="c" d="M199 939A114 114 0 0 1 106 873"/>
<path class="b" d="M298 1064A272 272 0 0 1 106 873"/>
<path class="b" d="M298 1064A160 160 0 0 1 199 939"/>
<circle class="b" cx="862" cy="118" r="20"/>
<circle class="c" cx="782" cy="238" r="24"/>
<circle class="d" cx="1058" cy="322" r="18"/>
<circle class="e" cx="600" cy="1124" r="20"/>
<circle class="c" cx="782" cy="1066" r="15"/>
<circle class="a" cx="350" cy="652" r="16"/>
</g>
<g class="n" id="n-hms"><circle cx="825" cy="122" r="40" fill="#e8f2c0"/><text x="825" y="130">hms</text></g>
<g class="n" id="n-slr"><circle cx="752" cy="210" r="43" fill="#d9ebc0"/><text x="752" y="218">slr</text></g>
<g class="n" id="n-mc"><circle cx="299" cy="311" r="51" fill="#a6cbbb"/><text x="299" y="319">mc</text></g>
<g class="n" id="n-hul"><circle cx="793" cy="325" r="48" fill="#b8d6bf"/><text x="793" y="333">hul</text></g>
<g class="n" id="n-nsd"><circle cx="913" cy="316" r="45" fill="#c8e0bc"/><text x="913" y="324">nsd</text></g>
<g class="n" id="n-nst"><circle cx="1020" cy="329" r="41" fill="#d9ebc1"/><text x="1020" y="337">nst</text></g>
<g class="n" id="n-gpo"><circle cx="1117" cy="388" r="33" fill="#fbe0a7"/><text x="1117" y="396">gpo</text></g>
<g class="n" id="n-oclca"><circle cx="137" cy="424" r="39" fill="#f0f7c1"/><text x="137" y="432">oclca</text></g>
<g class="n" id="n-crl"><circle cx="749" cy="436" r="49" fill="#a8cbbd"/><text x="749" y="444">crl</text></g>
<g class="n" id="n-nlm"><circle cx="864" cy="463" r="44" fill="#d3e7be"/><text x="864" y="471">nlm</text></g>
<g class="n" id="n-mcs"><circle cx="1034" cy="440" r="38" fill="#fbfac3"/><text x="1034" y="448">mcs</text></g>
<g class="n" id="n-hmm"><circle cx="291" cy="485" r="37" fill="#fdfbc4"/><text x="291" y="493">hmm</text></g>
<g class="n" id="n-iul"><circle cx="479" cy="502" r="48" fill="#b3d0bc"/><text x="479" y="510">iul</text></g>
<g class="n" id="n-nyg"><circle cx="961" cy="502" r="39" fill="#f1f6c0"/><text x="961" y="510">nyg</text></g>
<g class="n" id="n-coo"><circle cx="588" cy="555" r="43" fill="#cfe4be"/><text x="588" y="563">coo</text></g>
<g class="n" id="n-nyp"><circle cx="707" cy="549" r="39" fill="#eef5c2"/><text x="707" y="557">nyp</text></g>
<g class="n" id="n-hmu"><circle cx="113" cy="590" r="39" fill="#f6f8c3"/><text x="113" y="598">hmu</text></g>
<g class="n" id="n-agl"><circle cx="1059" cy="595" r="37" fill="#fdfdc6"/><text x="1059" y="603">agl</text></g>
<g class="n" id="n-uiu"><circle cx="319" cy="647" r="39" fill="#eff4bf"/><text x="319" y="655">uiu</text></g>
<g class="n" id="n-hls"><circle cx="467" cy="670" r="69" fill="#3a82bb"/><text x="467" y="678">hls</text></g>
<g class="n" id="n-clu"><circle cx="711" cy="665" r="46" fill="#c5dcbf"/><text x="711" y="673">clu</text></g>
<g class="n" id="n-oclcg"><circle cx="211" cy="676" r="45" fill="#c4dcbc"/><text x="211" y="684">oclcg</text></g>
<g class="n" id="n-pit"><circle cx="916" cy="686" r="45" fill="#c8dfbe"/><text x="916" y="694">pit</text></g>
<g class="n" id="n-hhg"><circle cx="109" cy="753" r="41" fill="#dfeebd"/><text x="109" y="761">hhg</text></g>
<g class="n" id="n-oclcq"><circle cx="300" cy="775" r="58" fill="#79aabd"/><text x="300" y="783">oclcq</text></g>
<g class="n" id="n-gzm"><circle cx="642" cy="761" r="40" fill="#ebf4c3"/><text x="642" y="769">gzm</text></g>
<g class="n" id="n-mul"><circle cx="999" cy="754" r="35" fill="#fef7c0"/><text x="999" y="762">mul</text></g>
<g class="n" id="n-dlc"><circle cx="792" cy="797" r="70" fill="#820f7e"/><text x="792" y="816" style="font-size:76px">dlc</text></g>
<g class="n" id="n-wau"><circle cx="525" cy="801" r="48" fill="#c0dbbf"/><text x="525" y="809">wau</text></g>
<g class="n" id="n-mh-mu"><circle cx="106" cy="873" r="32" fill="#fbe0a8"/><text x="106" y="881">mh-mu</text></g>
<g class="n" id="n-ixa"><circle cx="641" cy="878" r="46" fill="#c0dbbd"/><text x="641" y="886">ixa</text></g>
<g class="n" id="n-fll"><circle cx="915" cy="888" r="45" fill="#c6dfbd"/><text x="915" y="896">fll</text></g>
<g class="n" id="n-hvl"><circle cx="1012" cy="914" r="34" fill="#feedb5"/><text x="1012" y="922">hvl</text></g>
<g class="n" id="n-hch"><circle cx="199" cy="939" r="32" fill="#fbe0a8"/><text x="199" y="947">hch</text></g>
<g class="n" id="n-ocl"><circle cx="368" cy="935" r="67" fill="#3d87bd"/><text x="368" y="943">ocl</text></g>
<g class="n" id="n-oclcf"><circle cx="515" cy="927" r="51" fill="#a6c9c0"/><text x="515" y="935">oclcf</text></g>
<g class="n" id="n-ukm"><circle cx="743" cy="948" r="40" fill="#eaf3c2"/><text x="743" y="956">ukm</text></g>
<g class="n" id="n-oclco"><circle cx="638" cy="1007" r="50" fill="#a7cabf"/><text x="638" y="1015">oclco</text></g>
<g class="n" id="n-cstrlir"><circle cx="298" cy="1064" r="31" fill="#f8d5a0"/><text x="298" y="1072">cstrlir</text></g>
<g class="n" id="n-bha"><circle cx="403" cy="1092" r="51" fill="#a4c8bd"/><text x="403" y="1100">bha</text></g>
<g class="n" id="n-toz"><circle cx="748" cy="1063" r="35" fill="#fff8c0"/><text x="748" y="1071">toz</text></g>
<g class="n" id="n-mc2"><circle cx="919" cy="1045" r="58" fill="#77a9bc"/><text x="919" y="1053">m/c</text></g>
<g class="n" id="n-ddo"><circle cx="564" cy="1123" r="41" fill="#e4f0c2"/><text x="564" y="1131">ddo</text></g>
</svg>
